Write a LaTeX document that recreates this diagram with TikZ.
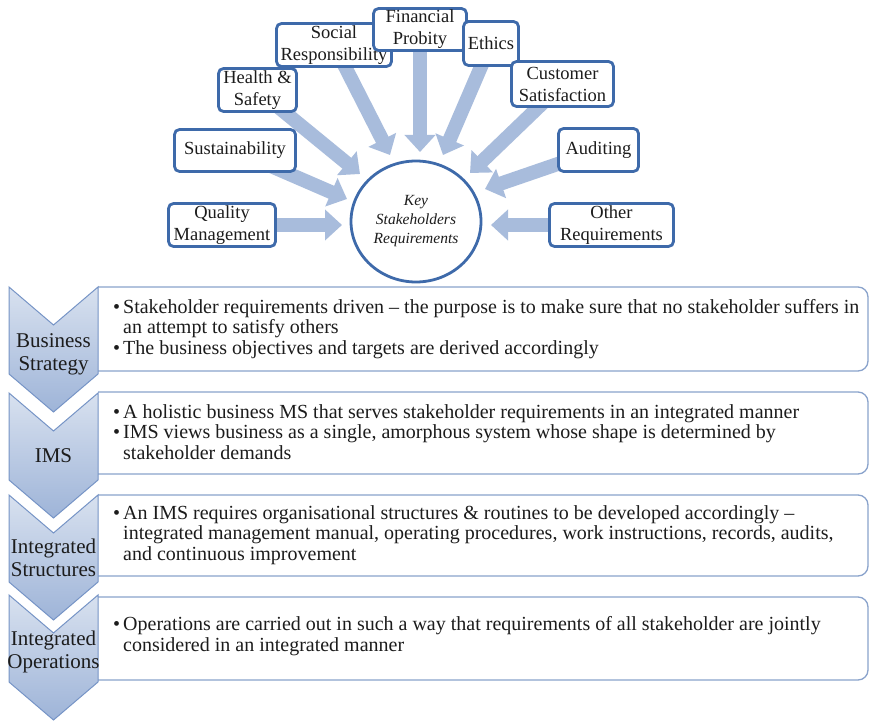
\documentclass[tikz,border=0pt]{standalone}
\usepackage{fontspec}
\setmainfont{Liberation Serif}
\usetikzlibrary{arrows.meta,shapes.geometric}
\definecolor{boxblue}{RGB}{62,106,170}
\definecolor{arrowblue}{RGB}{168,188,220}
\definecolor{chevline}{RGB}{118,148,198}
\definecolor{chevtop}{RGB}{216,225,239}
\definecolor{chevbot}{RGB}{158,180,216}
\definecolor{tbline}{RGB}{138,163,204}
\definecolor{txt}{RGB}{28,28,28}
\pgfdeclarelayer{bg}
\pgfsetlayers{bg,main}
\newcommand\blt{\makebox[10pt][l]{\textbullet}}
\newcommand\ind{\hspace*{10pt}}
\newcommand\mychevron[1]{%
  \path[draw=chevline, line width=1pt, top color=chevtop, bottom color=chevbot]
    (9,#1) -- (53.5,{#1+38}) -- (98,#1) -- (98,{#1+87}) -- (53.5,{#1+125}) -- (9,{#1+87}) -- cycle;}
\newcommand\mytextbox[2]{%
  \path[fill=white] (98,#1) -- (868,#1) -- (868,#2) -- (98,#2) -- cycle;
  \draw[tbline, line width=1.3pt, rounded corners=10pt] (98,#1) -- (868,#1) -- (868,#2) -- (98,#2);}
\begin{document}
\begin{tikzpicture}[x=1pt,y=-1pt,
  topbox/.style={draw=boxblue, line width=2.8pt, fill=white, rounded corners=5pt,
    align=center, inner sep=0pt, text=txt, font=\fontsize{18.5}{22}\selectfont},
  bigarrow/.style={draw=arrowblue, line width=14pt, -{Triangle[width=30pt,length=17pt]}},
  keycircle/.style={ellipse, draw=boxblue, line width=2.8pt, fill=white, inner sep=0pt,
    minimum width=130pt, minimum height=121pt, align=center, text=txt,
    font=\fontsize{15.5}{19}\selectfont\itshape},
  chevlabel/.style={align=center, inner sep=0pt, text=txt, font=\fontsize{21}{23}\selectfont},
  bodytext/.style={align=left, inner sep=0pt, anchor=west, text=txt, font=\fontsize{20}{20.8}\selectfont}
]
\begin{pgfonlayer}{bg}
\useasboundingbox[fill=white] (0,0) rectangle (876,722);
\end{pgfonlayer}

% key circle
\node[keycircle] (ksr) at (416,221.5) {Key\\Stakeholders\\Requirements};

% top boxes
\node[topbox, minimum width=107pt, minimum height=43pt] (qm) at (222,225) {Quality\\Management};
\node[topbox, minimum width=121pt, minimum height=42pt] (su) at (235,150.5) {Sustainability};
\node[topbox, minimum width=78pt, minimum height=43pt] (hs) at (257.5,90) {Health \&\\Safety};
\node[topbox, minimum width=115pt, minimum height=43pt] (sr) at (334,45) {Social\\Responsibility};
\node[topbox, minimum width=93pt, minimum height=42pt] (fp) at (420,29.5) {Financial\\Probity};
\node[topbox, minimum width=55pt, minimum height=44pt] (et) at (491,43.5) {Ethics};
\node[topbox, minimum width=102pt, minimum height=45pt] (cs) at (562.5,84) {Customer\\Satisfaction};
\node[topbox, minimum width=80pt, minimum height=43pt] (au) at (598.5,150) {Auditing};
\node[topbox, minimum width=124pt, minimum height=43pt] (or) at (611.5,225) {Other\\Requirements};

% arrow tips
\coordinate (tqm) at (342,225);
\coordinate (tsu) at (347,199);
\coordinate (ths) at (360,174);
\coordinate (tsr) at (390,155);
\coordinate (tfp) at (420,152);
\coordinate (tet) at (443,155);
\coordinate (tcs) at (470,173);
\coordinate (tau) at (485,189);
\coordinate (tor) at (491,225);

\begin{pgfonlayer}{bg}
\draw[bigarrow] (qm.center) -- (tqm);
\draw[bigarrow] (su.center) -- (tsu);
\draw[bigarrow] (hs.center) -- (ths);
\draw[bigarrow] (sr.center) -- (tsr);
\draw[bigarrow] (fp.center) -- (tfp);
\draw[bigarrow] (et.center) -- (tet);
\draw[bigarrow] (cs.center) -- (tcs);
\draw[bigarrow] (au.center) -- (tau);
\draw[bigarrow] (or.center) -- (tor);
\end{pgfonlayer}

% vertical chevron list
\mytextbox{287}{371}
\mychevron{287}
\node[chevlabel] (c1) at (53.5,354) {Business\\Strategy};
\node[bodytext] (b1) at (113,329) {\blt Stakeholder requirements driven \textendash{} the purpose is to make sure that no stakeholder suffers in\\
\ind an attempt to satisfy others\\
\blt The business objectives and targets are derived accordingly};

\mytextbox{392}{474}
\mychevron{393}
\node[chevlabel] (c2) at (53.5,456) {IMS};
\node[bodytext] (b2) at (113,432) {\blt A holistic business MS that serves stakeholder requirements in an integrated manner\\
\blt IMS views business as a single, amorphous system whose shape is determined by\\
\ind stakeholder demands};

\mytextbox{495}{576}
\mychevron{495}
\node[chevlabel] (c3) at (53.5,558) {Integrated\\Structures};
\node[bodytext] (b3) at (113,535) {\blt An IMS requires organisational structures \& routines to be developed accordingly \textendash\\
\ind integrated management manual, operating procedures, work instructions, records, audits,\\
\ind and continuous improvement};

\mytextbox{597}{680}
\mychevron{595}
\node[chevlabel] (c4) at (53.5,652) {Integrated\\Operations};
\node[bodytext] (b4) at (113,636) {\blt Operations are carried out in such a way that requirements of all stakeholder are jointly\\
\ind considered in an integrated manner};
\end{tikzpicture}
\end{document}
